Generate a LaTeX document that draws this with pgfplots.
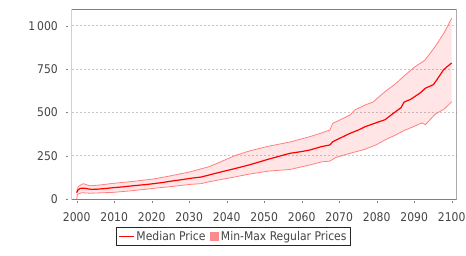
\documentclass[border=0pt]{standalone}
\usepackage{fontspec}
\setmainfont{DejaVu Sans Condensed}
\usepackage{pgfplots}
\pgfplotsset{compat=1.18}
\usepgfplotslibrary{fillbetween}
\definecolor{txt}{RGB}{68,68,68}
\definecolor{axgray}{RGB}{128,128,128}
\definecolor{gridc}{RGB}{200,200,200}
\definecolor{bandline}{RGB}{255,128,128}
\definecolor{bandsq}{RGB}{250,140,140}
\begin{document}
\begin{tikzpicture}
\begin{axis}[
  at={(0,0)}, anchor=south west,
  scale only axis, width=385pt, height=190.3pt,
  xmin=1998.67, xmax=2101.33, ymin=0, ymax=1096,
  axis line style={draw=none},
  xtick={2000,2010,2020,2030,2040,2050,2060,2070,2080,2090,2100},
  xticklabels={2000,2010,2020,2030,2040,2050,2060,2070,2080,2090,2100},
  ytick={0,250,500,750,1000},
  yticklabels={0,250,500,750,1\,000},
  tick pos=left,
  tick align=outside, major tick length=2pt,
  xtick style={draw=axgray, yshift=-2pt},
  ytick style={draw=axgray, xshift=-3.4pt},
  ymajorgrids,
  y grid style={gridc, dash pattern=on 2pt off 2pt, line width=0.8pt},
  tick label style={font=\fontsize{12}{14}\selectfont, text=txt},
  xticklabel style={anchor=north, inner sep=0pt, yshift=-10.7pt},
  yticklabel style={anchor=east, inner sep=0pt, xshift=-11.7pt},
  legend style={at={(0.42,-0.1456)}, anchor=north, draw=black!85, line width=0.8pt,
    font=\fontsize{12}{14}\selectfont, text=txt, inner sep=1.5pt,
    /tikz/every even column/.append style={column sep=3pt}},
  legend columns=2,
  legend cell align=left,
]
\addlegendimage{legend image code/.code={\draw[red, line width=1.2pt] (0pt,0pt) -- (15pt,0pt);}}
\addlegendentry{Median Price}
\addlegendimage{legend image code/.code={\fill[bandsq] (0pt,-3.85pt) rectangle (7.7pt,3.85pt);}}
\addlegendentry{Min-Max Regular Prices}

\addplot[name path=maxp, bandline, line width=0.8pt, forget plot] coordinates {
(2000.0,45)(2000.4,72)(2001.3,86)(2001.8,90)(2002.6,84)(2003.6,78)(2006,82)(2009.8,92)(2015,103)(2020.5,117)(2025,135)(2030.4,159)(2033.1,175)(2035.3,188)(2038,212)(2042,250)(2046,278)(2051,305)(2056.9,330)(2062.2,361)(2065,380)(2067.5,399)(2068.3,438)(2070,455)(2072.9,486)(2074.2,515)(2076.9,543)(2079,560)(2082.2,620)(2085,665)(2087.6,716)(2090,760)(2092.9,802)(2095.6,880)(2098,960)(2100,1043)
};
\addplot[name path=minp, bandline, line width=0.8pt, forget plot] coordinates {
(2000.0,0)(2000.2,28)(2001.3,38)(2003.6,35)(2006,37)(2009.8,40)(2015,50)(2020.5,63)(2025,73)(2030.4,86)(2033.1,90)(2035.3,101)(2038,112)(2042,128)(2046,145)(2051,162)(2056.9,172)(2062.2,198)(2065.2,215)(2067.5,220)(2069,240)(2072.9,265)(2076.9,288)(2080,315)(2082.2,342)(2085,370)(2087.6,399)(2090,420)(2092,440)(2093,430)(2095.6,490)(2098,520)(2100,562)
};
\addplot[fill=red, fill opacity=0.1, draw=none, forget plot] fill between[of=maxp and minp];
\addplot[red, line width=1.2pt, forget plot] coordinates {
(2000.0,38)(2000.3,52)(2000.7,60)(2001,63)(2002,64)(2003,60)(2004,57)(2005.4,58)(2008,63)(2009.8,67)(2012,71)(2015,78)(2018,84)(2020.5,90)(2023,97)(2025,104)(2028,113)(2030.4,121)(2033.1,128)(2035.3,140)(2038,155)(2042,176)(2046,198)(2051,230)(2054,248)(2056.9,265)(2060,275)(2062.2,284)(2065.2,303)(2067.5,313)(2068.3,332)(2070,350)(2072.9,380)(2075,398)(2076.9,418)(2080,442)(2082.2,458)(2084,488)(2086.5,528)(2087.3,560)(2089,575)(2091.5,611)(2093,640)(2095.1,660)(2096,687)(2097.8,745)(2099,768)(2100,785)
};
\draw[axgray, line width=0.8pt] (rel axis cs:0,0) rectangle (rel axis cs:1,1);
\draw[axgray, line width=0.8pt] ([xshift=-3.4pt]rel axis cs:0,0) -- ([xshift=-3.4pt]rel axis cs:0,1);
\draw[axgray, line width=0.8pt] ([yshift=-2pt]rel axis cs:0,0) -- ([yshift=-2pt]rel axis cs:1,0);
\node[rotate=90, text=txt, font=\fontsize{12}{14}\selectfont] at ([xshift=-54.4pt]rel axis cs:0,0.5045) {Value};
\end{axis}
\pgfresetboundingbox
\path (-71.7pt,-55.7pt) rectangle (394.3pt,199.3pt);
\end{tikzpicture}
\end{document}
